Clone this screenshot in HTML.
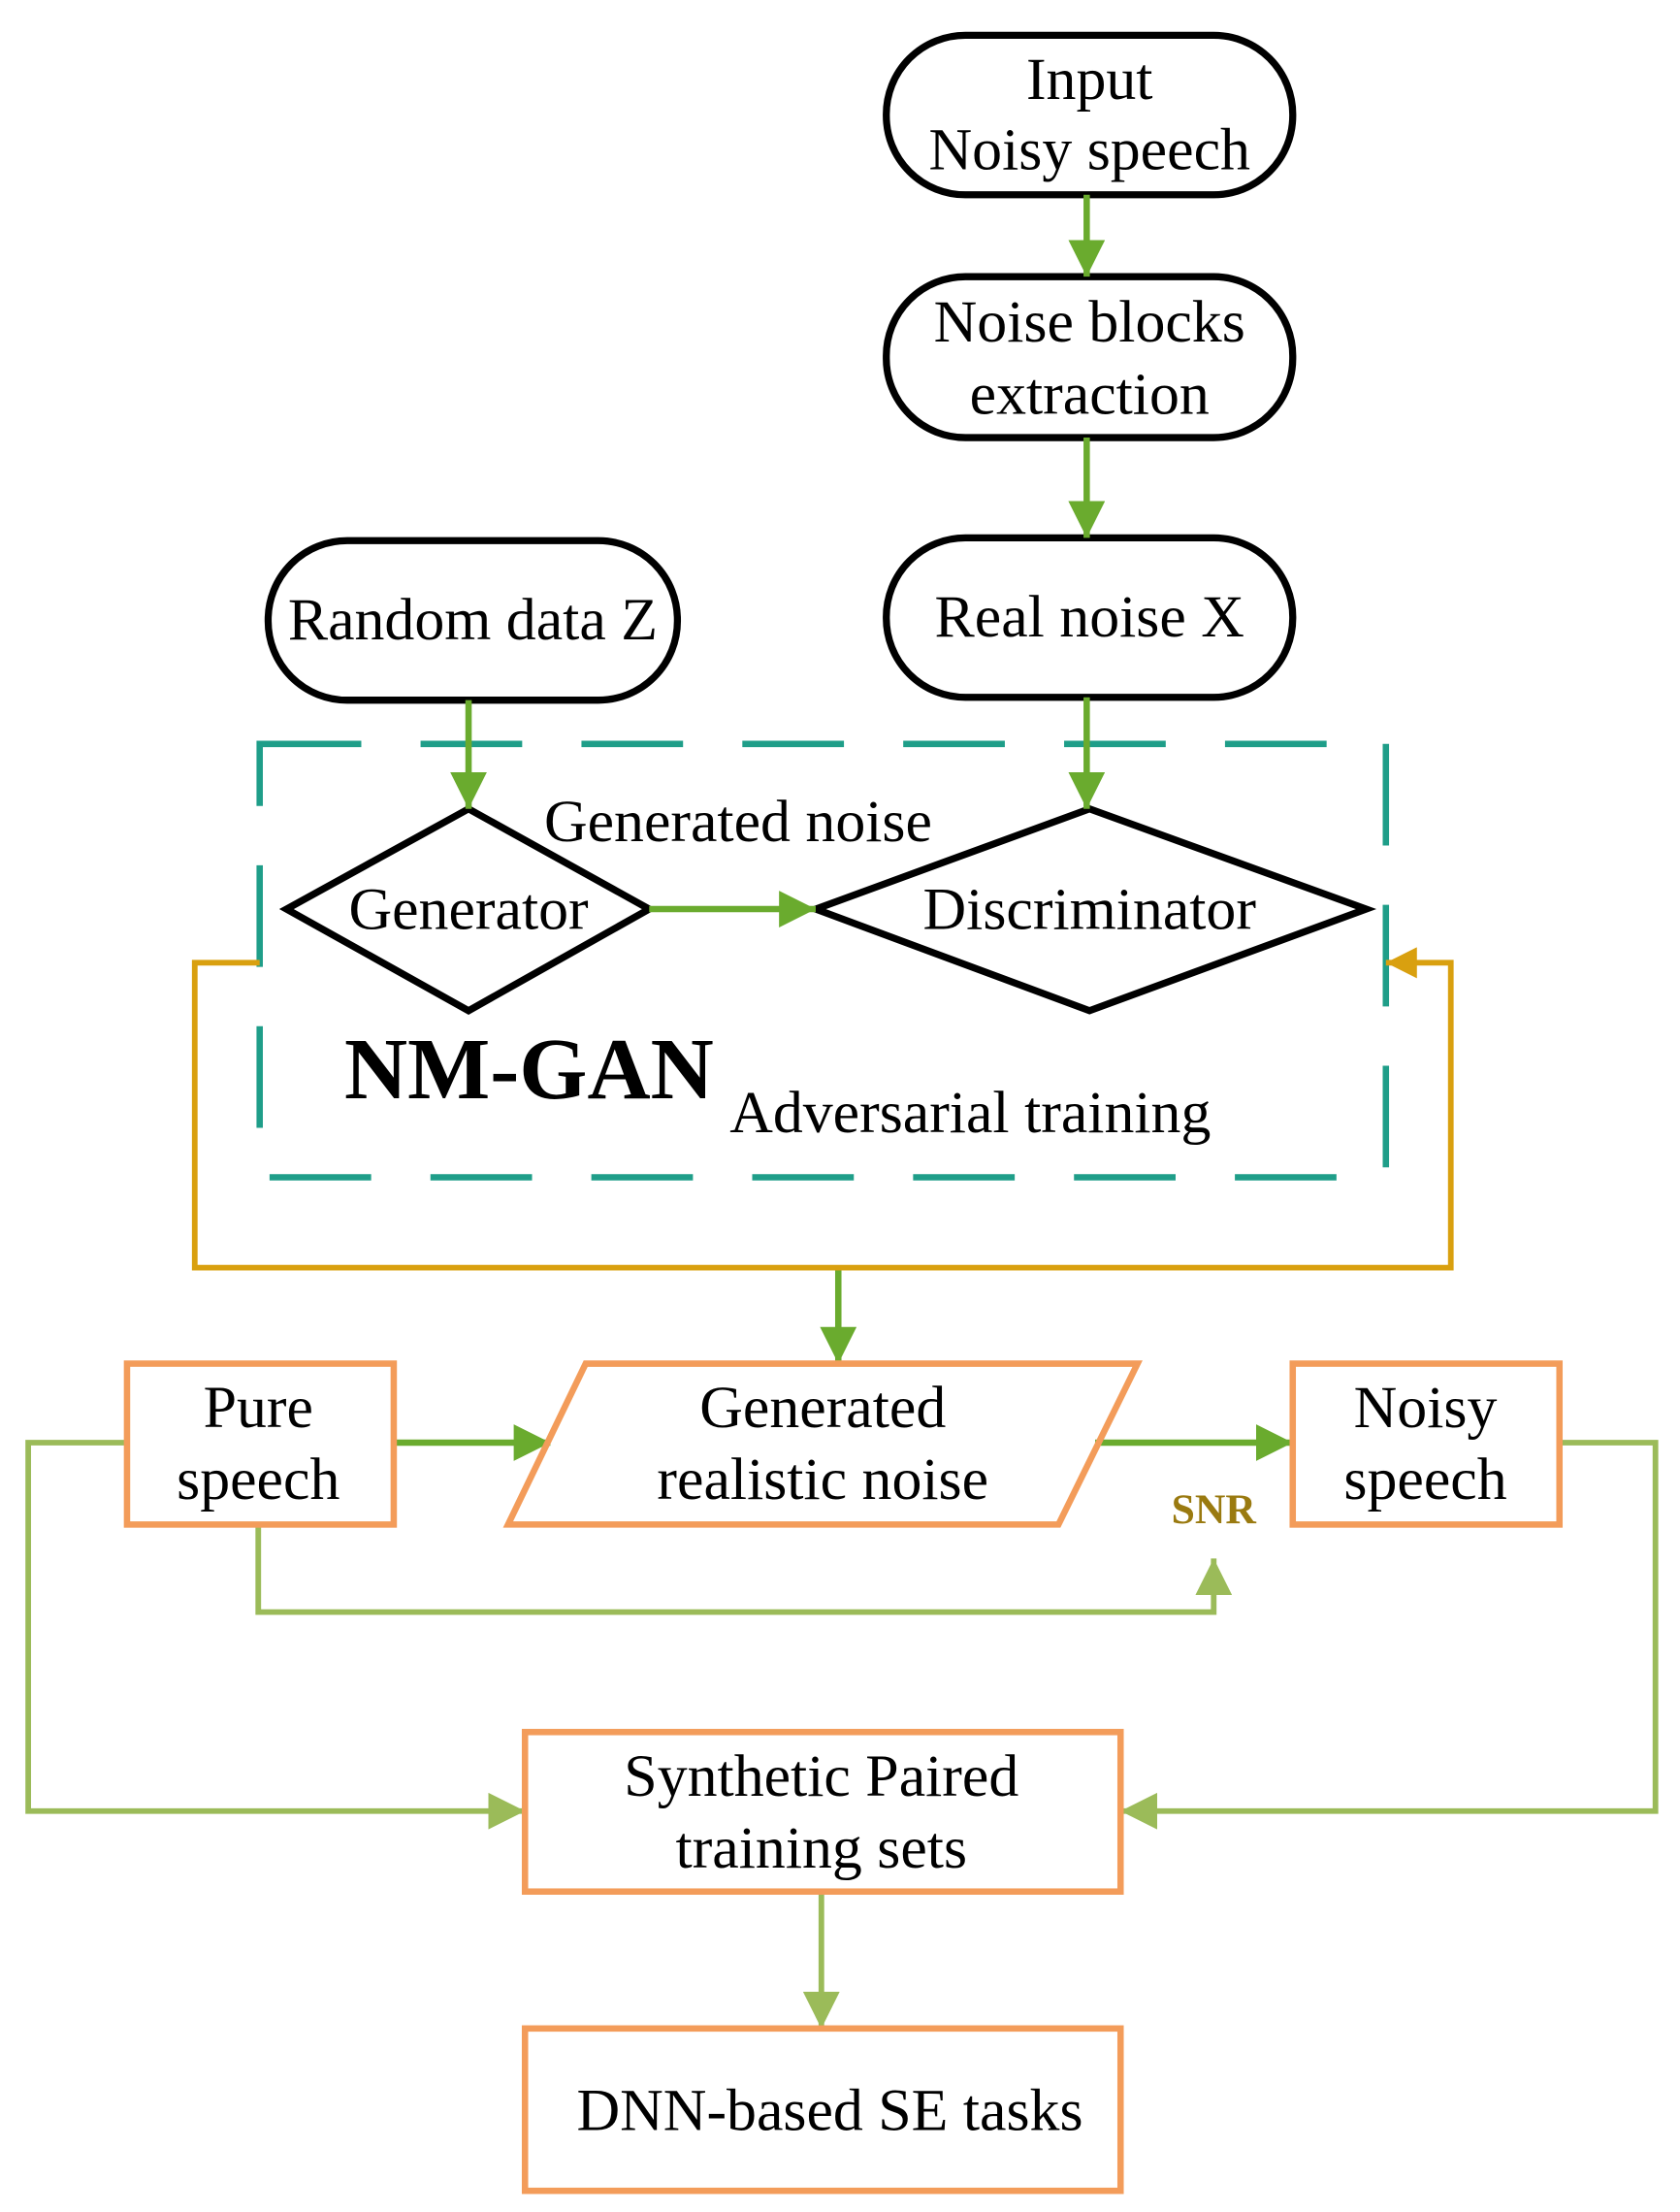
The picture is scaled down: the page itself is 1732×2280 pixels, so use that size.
<!DOCTYPE html>
<html><head><meta charset="utf-8"><style>html,body{margin:0;padding:0;background:#fff}svg{display:block}</style></head>
<body>
<svg width="1732" height="2280" viewBox="0 0 1190.4 1567" preserveAspectRatio="none" xmlns="http://www.w3.org/2000/svg" font-family="Liberation Serif, serif">
<defs>
<marker id="lg" viewBox="0 0 26 26" refX="26" refY="13" markerWidth="26" markerHeight="26" orient="auto" markerUnits="userSpaceOnUse"><path d="M0,0 L26,13 L0,26 z" fill="#9bbb59"/></marker>
<marker id="gg" viewBox="0 0 26 26" refX="26" refY="13" markerWidth="26" markerHeight="26" orient="auto" markerUnits="userSpaceOnUse"><path d="M0,0 L26,13 L0,26 z" fill="#6aab2e"/></marker>
<marker id="og" viewBox="0 0 26 26" refX="26" refY="13" markerWidth="22" markerHeight="22" orient="auto" markerUnits="userSpaceOnUse"><path d="M0,0 L26,13 L0,26 z" fill="#d9a00f"/></marker>
</defs>
<g fill="none" stroke="#000" stroke-width="5">
<rect x="628" y="25" width="288" height="113" rx="56"/>
<rect x="628" y="196" width="288" height="114" rx="56"/>
<rect x="628" y="381" width="288" height="113" rx="56"/>
<rect x="190" y="383" width="290" height="113" rx="56"/>
<polygon points="203,644 332,573 460,644 332,716"/>
<polygon points="578,644 772,573 968,644 772,716"/>
</g>
<rect x="184" y="527" width="798" height="307" fill="none" stroke="#1f9e89" stroke-width="4.5" stroke-dasharray="72,42"/>
<g stroke="#6aab2e" stroke-width="4.5" fill="none">
<line x1="770" y1="138" x2="770" y2="196" marker-end="url(#gg)"/>
<line x1="770" y1="310" x2="770" y2="381" marker-end="url(#gg)"/>
<line x1="332" y1="496" x2="332" y2="573" marker-end="url(#gg)"/>
<line x1="770" y1="494" x2="770" y2="573" marker-end="url(#gg)"/>
<line x1="460" y1="644" x2="578" y2="644" marker-end="url(#gg)"/>
<line x1="594" y1="898" x2="594" y2="966" marker-end="url(#gg)"/>
<line x1="279" y1="1022" x2="390" y2="1022" marker-end="url(#gg)"/>
<line x1="776" y1="1022" x2="916" y2="1022" marker-end="url(#gg)"/>
</g>
<polyline points="184,682 138,682 138,898 1028,898 1028,682 982,682" fill="none" stroke="#d9a00f" stroke-width="4" marker-end="url(#og)"/>
<g stroke="#9bbb59" stroke-width="4" fill="none">
<polyline points="183,1080 183,1142 860,1142 860,1104" marker-end="url(#lg)"/>
<polyline points="90,1022 20,1022 20,1283 372,1283" marker-end="url(#lg)"/>
<polyline points="1105,1022 1173,1022 1173,1283 794,1283" marker-end="url(#lg)"/>
<line x1="582" y1="1340" x2="582" y2="1437" marker-end="url(#lg)"/>
</g>
<g fill="none" stroke="#f39c5a" stroke-width="4.5">
<rect x="90" y="966" width="189" height="114"/>
<polygon points="415,966 806,966 750,1080 360,1080"/>
<rect x="916" y="966" width="189" height="114"/>
<rect x="372" y="1227" width="422" height="113"/>
<rect x="372" y="1437" width="422" height="115"/>
</g>
<g font-size="42.5" text-anchor="middle" fill="#000">
<text x="772" y="70">Input</text>
<text x="772" y="120">Noisy speech</text>
<text x="772" y="242">Noise blocks</text>
<text x="772" y="293">extraction</text>
<text x="772" y="451">Real noise X</text>
<text x="335" y="453">Random data Z</text>
<text x="332" y="658">Generator</text>
<text x="772" y="658">Discriminator</text>
<text x="523" y="596">Generated noise</text>
<text x="183" y="1011">Pure</text>
<text x="183" y="1062">speech</text>
<text x="583" y="1011">Generated</text>
<text x="583" y="1062">realistic noise</text>
<text x="1010" y="1011">Noisy</text>
<text x="1010" y="1062">speech</text>
<text x="582" y="1272">Synthetic Paired</text>
<text x="582" y="1323">training sets</text>
<text x="588" y="1509">DNN-based SE tasks</text>
</g>
<text x="244" y="778" font-size="62" font-weight="bold">NM-GAN</text>
<text x="517" y="802" font-size="42.5">Adversarial training</text>
<text x="860" y="1079" font-size="30" font-weight="bold" fill="#9a7a10" text-anchor="middle">SNR</text>
</svg>
</body></html>
